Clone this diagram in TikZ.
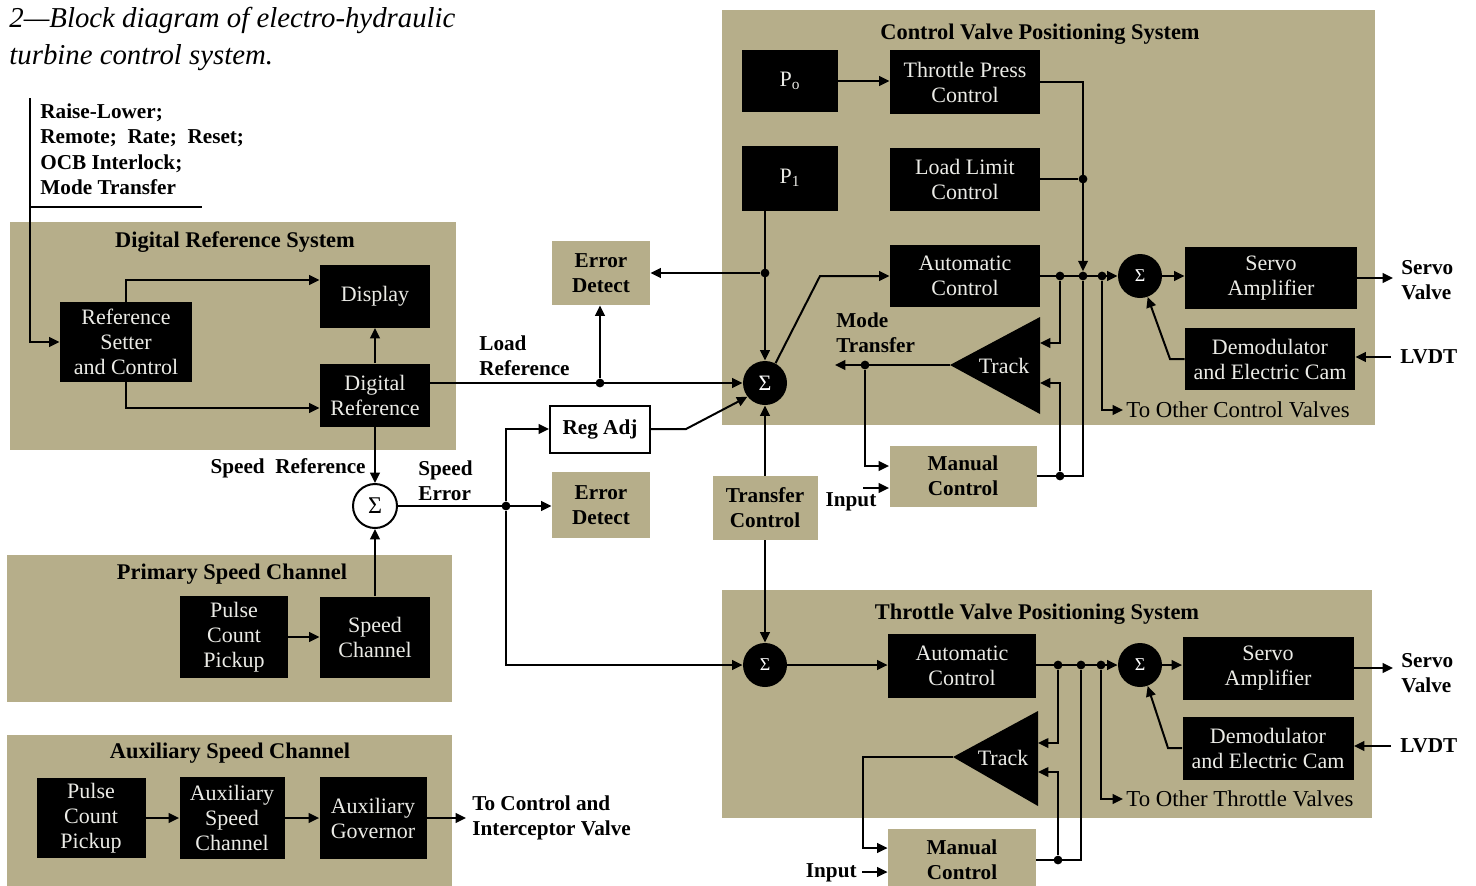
\documentclass[tikz,border=0pt]{standalone}
\usepackage{fontspec}
\setmainfont{Liberation Serif}
\usetikzlibrary{arrows.meta,calc}
\definecolor{paneltan}{RGB}{182,174,138}
\definecolor{boxtext}{RGB}{235,235,230}
\begin{document}
\begin{tikzpicture}[x=0.5pt,y=-0.5pt,
  font=\fontsize{10}{12.5}\selectfont,
  blk/.style={fill=black,text=boxtext,align=center,inner sep=0pt,font=\fontsize{11}{12.5}\selectfont},
  tbox/.style={fill=paneltan,align=center,inner sep=0pt,font=\bfseries\fontsize{10.6}{12.5}\selectfont},
  sz/.style 2 args={minimum width=#1*0.5pt,minimum height=#2*0.5pt},
  sumb/.style={circle,fill=black,text=white,minimum size=22pt,inner sep=0pt,font=\fontsize{11}{12}\selectfont},
  arr/.style={-{Triangle[length=5.2pt,width=4.8pt]},line width=1pt},
  ln/.style={line width=1pt},
  dot/.style={circle,fill=black,inner sep=0pt,minimum size=4.4pt},
  lbl/.style={font=\bfseries\fontsize{10.6}{12.6}\selectfont,align=left,inner sep=0pt},
  ptitle/.style={font=\bfseries\fontsize{11.2}{12}\selectfont,inner sep=0pt}]
\useasboundingbox (0,0) rectangle (1476,885);

% panels
\fill[paneltan] (10,222) rectangle (456,450);
\fill[paneltan] (7,555) rectangle (452,702);
\fill[paneltan] (7,735) rectangle (452,892);
\fill[paneltan] (722,10) rectangle (1375,425);
\fill[paneltan] (722,590) rectangle (1372,818);

% caption
\node[anchor=north west,align=left,inner sep=0pt,font=\itshape\fontsize{14.4}{18.5}\selectfont] (title) at (9,7)
  {2—Block diagram of electro-hydraulic\\turbine control system.};

% external inputs
\node[lbl,anchor=north west,font=\bfseries\fontsize{10.6}{12.8}\selectfont] (inlbl) at (40,103)
  {Raise-Lower;\\Remote;\ \ Rate;\ \ Reset;\\OCB Interlock;\\Mode Transfer};
\coordinate (inTop) at (30,98);
\coordinate (ulA) at (30,207);
\coordinate (ulB) at (202,207);

% Digital Reference System
\node[ptitle] (drsT) at (235,242) {Digital Reference System};
\node[blk,sz={132}{80}] (refset) at (126,342) {Reference\\Setter\\and Control};
\node[blk,sz={110}{63}] (display) at (375,296) {Display};
\node[blk,sz={110}{63}] (digref) at (375,395) {Digital\\Reference};
\draw[ln] (ulA) -- (ulB);
\draw[arr] (inTop) |- (refset.west);
\draw[arr] (refset.north) |- ($(display.west)+(0,-16)$);
\draw[arr] (refset.south) |- ($(digref.west)+(0,13)$);
\draw[arr] (digref.north) -- (display.south);

% load reference path
\node[sumb] (sumc) at (765,383) {Σ};
\node[tbox,sz={98}{64}] (err1) at (601,273) {Error\\Detect};
\node[dot] (jlr) at (600,383) {};
\node[lbl,anchor=west] (loadref) at (479,356) {Load\\Reference};
\draw[arr] (digref.east |- sumc) -- (sumc.west);
\draw[arr] (jlr) -- (jlr |- err1.south);

% speed error path
\node[circle,draw,line width=1pt,fill=white,minimum size=22pt,inner sep=0pt,font=\fontsize{12}{12}\selectfont] (sums) at (375,506) {Σ};
\node[lbl,anchor=east] (spref) at (366,468) {Speed\ \ Reference};
\node[lbl,anchor=west] (sperr) at (418,481) {Speed\\Error};
\node[tbox,sz={98}{66}] (err2) at (601,505) {Error\\Detect};
\node[dot] (jse) at (506,506) {};
\node[draw,line width=1pt,fill=white,sz={100}{47},inner sep=0pt,font=\bfseries\fontsize{10.6}{12}\selectfont] (regadj) at (600,429) {Reg Adj};
\draw[arr] (digref.south) -- (sums.north);
\draw[arr] (sums.east) -- (sums.east -| err2.west);
\draw[arr] (jse) |- (regadj.west);
\draw[arr] (regadj.east) -- ++(35,0) -- (sumc.218);

% transfer control
\node[tbox,sz={105}{64}] (transfer) at (765,508) {Transfer\\Control};
\node[sumb,font=\fontsize{9}{10}\selectfont] (sumt) at (765,665) {Σ};
\draw[arr] (transfer.north) -- (sumc.south);
\draw[arr] (transfer.south) -- (sumt.north);
\draw[arr] (jse) |- (sumt.west);

% primary speed channel
\node[ptitle] (pscT) at (232,574) {Primary Speed Channel};
\node[blk,sz={108}{82}] (pcp1) at (234,637) {Pulse\\Count\\Pickup};
\node[blk,sz={110}{81}] (sch) at (375,637) {Speed\\Channel};
\draw[arr] (pcp1.east) -- (sch.west);
\draw[arr] (sch.north) -- (sums.south);

% auxiliary speed channel
\node[ptitle] (ascT) at (230,753) {Auxiliary Speed Channel};
\node[blk,sz={109}{80}] (pcp2) at (91,818) {Pulse\\Count\\Pickup};
\node[blk,sz={105}{82}] (asch) at (232,818) {Auxiliary\\Speed\\Channel};
\node[blk,sz={107}{82}] (agov) at (373,818) {Auxiliary\\Governor};
\node[lbl,anchor=west] (toci) at (472,818) {To Control and\\Interceptor Valve};
\draw[arr] (pcp2.east) -- (asch.west);
\draw[arr] (asch.east) -- (agov.west);
\draw[arr] (agov.east) -- ($(toci.west)+(-6,0)$);

% Control Valve Positioning System
\node[ptitle] (cvT) at (1040,34) {Control Valve Positioning System};
\node[blk,sz={96}{62}] (po) at (790,81) {P\textsubscript{o}};
\node[blk,sz={96}{65}] (p1) at (790,178) {P\textsubscript{1}};
\node[blk,sz={150}{64}] (tpc) at (965,82) {Throttle Press\\Control};
\node[blk,sz={150}{63}] (llc) at (965,179) {Load Limit\\Control};
\node[blk,sz={150}{62}] (acc) at (965,276) {Automatic\\Control};
\node[sumb,font=\fontsize{9}{10}\selectfont] (sum2c) at (1140,276) {Σ};
\node[blk,sz={172}{62}] (servoc) at (1271,278) {Servo\\Amplifier};
\node[blk,sz={170}{62}] (demc) at (1270,359) {Demodulator\\and Electric Cam};
\node[tbox,sz={147}{61}] (manc) at (963,476) {Manual\\Control};
\node[anchor=west,inner sep=0pt,font=\fontsize{11.4}{12}\selectfont] (tocv) at (1126,410) {To Other Control Valves};
\node[lbl,anchor=west] (svc) at (1401,280) {Servo\\Valve};
\node[lbl,anchor=west] (lvc) at (1400,357) {LVDT};
\node[lbl,anchor=west] (mtlbl) at (836,333) {Mode\\Transfer};
\node[lbl] (inlblc) at (851,502) {Input};
\node[dot] (jp1) at (765,273) {};
\node[dot] (jll) at (1083,179) {};
\node[dot] (jc1) at (1060,276) {};
\node[dot] (jc2) at (1083,276) {};
\node[dot] (jc3) at (1102,276) {};
\node[dot] (jm1) at (1060,476) {};
\node[dot] (jmt) at (865,365) {};
\coordinate (kc) at (820,276);
\coordinate (tcA) at (950,365);
\coordinate (tcB) at (1040,317);
\coordinate (tcC) at (1040,414);
\coordinate (tc1) at (1040,343);
\coordinate (tc2) at (1040,383);
\coordinate (mtout) at (835,365);
\coordinate (inc) at (863,488);
\coordinate (dmc) at (1170,359);
\coordinate (svcend) at (1393,278);
\coordinate (lvcst) at (1391,357);
\fill (tcA) -- (tcB) -- (tcC) -- cycle;
\node[text=boxtext,inner sep=0pt,font=\fontsize{11}{12}\selectfont] (trackc) at (1004,366) {Track};
\draw[arr] (po.east) -- (po.east -| tpc.west);
\draw[arr] (p1.south -| sumc) -- (sumc.north);
\draw[arr] (jp1) -- (jp1 -| err1.east);
\draw[arr] (sumc.62) -- (kc) -- (acc.west);
\draw[arr] (acc.east) -- (sum2c.west);
\draw[arr] (tpc.east) -| (jc2);
\draw[ln] (llc.east) -- (jll);
\draw[arr] (jc1) |- (tc1);
\draw[ln] (manc.east) -| (jc2);
\draw[arr] (jm1) |- (tc2);
\draw[arr] (tcA) -- (mtout);
\draw[arr] (jmt) |- ($(manc.west)+(0,-10)$);
\draw[arr] (inc) -- (inc -| manc.west);
\draw[arr] (jc3) |- ($(tocv.west)+(-3,0)$);
\draw[arr] (sum2c.east) -- (sum2c.east -| servoc.west);
\draw[arr] (servoc.east) -- (svcend);
\draw[arr] (lvcst) -- (lvcst -| demc.east);
\draw[arr] (demc.west) -- (dmc) -- (sum2c.290);

% Throttle Valve Positioning System
\node[ptitle] (tvT) at (1037,614) {Throttle Valve Positioning System};
\node[blk,sz={148}{64}] (act) at (962,666) {Automatic\\Control};
\node[sumb,font=\fontsize{9}{10}\selectfont] (sum3t) at (1140,665) {Σ};
\node[blk,sz={171}{63}] (servot) at (1268,668) {Servo\\Amplifier};
\node[blk,sz={171}{63}] (demt) at (1268,748) {Demodulator\\and Electric Cam};
\node[tbox,sz={148}{62}] (mant) at (962,860) {Manual\\Control};
\node[anchor=west,inner sep=0pt,font=\fontsize{11.4}{12}\selectfont] (tott) at (1126,799) {To Other Throttle Valves};
\node[lbl,anchor=west] (svt) at (1401,673) {Servo\\Valve};
\node[lbl,anchor=west] (lvt) at (1400,746) {LVDT};
\node[lbl,anchor=east] (inlblt) at (857,873) {Input};
\node[dot] (jt1) at (1058,665) {};
\node[dot] (jt2) at (1081,665) {};
\node[dot] (jt3) at (1101,665) {};
\node[dot] (jm2) at (1058,860) {};
\coordinate (ttA) at (953,757);
\coordinate (ttB) at (1038,711);
\coordinate (ttC) at (1038,806);
\coordinate (ti1) at (1038,743);
\coordinate (ti2) at (1038,772);
\coordinate (tkt) at (863,757);
\coordinate (int) at (862,872);
\coordinate (dmt) at (1168,748);
\coordinate (svtend) at (1393,668);
\coordinate (lvtst) at (1391,746);
\fill (ttA) -- (ttB) -- (ttC) -- cycle;
\node[text=boxtext,inner sep=0pt,font=\fontsize{11}{12}\selectfont] (trackt) at (1003,758) {Track};
\draw[arr] (sumt.east) -- (sumt.east -| act.west);
\draw[arr] (act.east |- sum3t) -- (sum3t.west);
\draw[arr] (jt1) |- (ti1);
\draw[ln] (mant.east) -| (jt2);
\draw[arr] (jm2) |- (ti2);
\draw[arr] (ttA) -- (tkt) |- ($(mant.west)+(0,-12)$);
\draw[arr] (int) -- (int -| mant.west);
\draw[arr] (jt3) |- ($(tott.west)+(-3,0)$);
\draw[arr] (sum3t.east) -- (sum3t.east -| servot.west);
\draw[arr] (servot.east) -- (svtend);
\draw[arr] (lvtst) -- (lvtst -| demt.east);
\draw[arr] (demt.west) -- (dmt) -- (sum3t.290);
\end{tikzpicture}
\end{document}
